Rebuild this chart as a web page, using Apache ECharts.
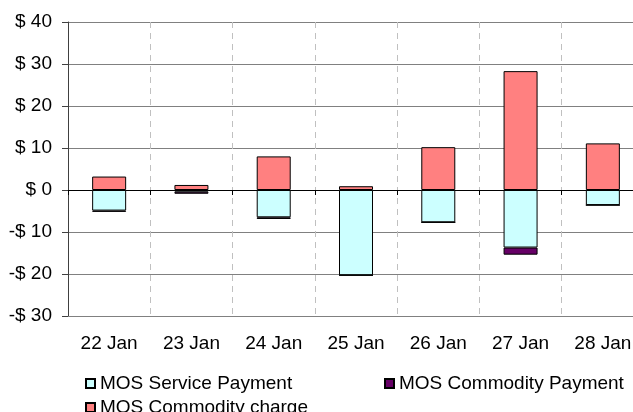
<!DOCTYPE html>
<html>
<head>
<meta charset="utf-8">
<script src="https://cdn.jsdelivr.net/npm/echarts@6/dist/echarts.min.js"></script>
<style>
html,body{margin:0;padding:0;background:#fff;}
#c{width:633px;height:412px;}
</style>
</head>
<body>
<div id="c"></div>
<script>
var categories = ['22 Jan','23 Jan','24 Jan','25 Jan','26 Jan','27 Jan','28 Jan'];
var servicePayment = [-4.9, -0.4, -6.5, -20.3, -7.7, -13.7, -3.6];
var commodityPayment = [-0.3, -0.5, -0.4, 0, 0, -1.7, 0];
var commodityCharge = [3.2, 1.2, 8.0, 0.9, 10.2, 28.3, 11.1];
var yTicks = {min: -30, max: 40, interval: 10};

var FONT = '"Liberation Sans", Arial, sans-serif';
var chart = echarts.init(document.getElementById('c'), null, {renderer: 'canvas'});

function barSeries(name, data, color) {
  return {
    name: name, type: 'bar', stack: 'total', data: data,
    xAxisIndex: 0, yAxisIndex: 0,
    barWidth: 34,
    itemStyle: {color: color, borderColor: '#000', borderWidth: 1},
    emphasis: {disabled: true}
  };
}

var legendBase = {
  orient: 'horizontal', itemWidth: 9, itemHeight: 9, icon: 'rect',
  textStyle: {fontFamily: FONT, fontSize: 19, color: '#000'},
  selectedMode: false
};

chart.setOption({
  animation: false,
  backgroundColor: '#fff',
  grid: {left: 68, top: 22, width: 576, bottom: 96, containLabel: false, outerBoundsMode: 'none'},
  legend: [
    Object.assign({}, legendBase, {data: ['MOS Service Payment'], left: 80, top: 369}),
    Object.assign({}, legendBase, {data: ['MOS Commodity Payment'], left: 379, top: 369}),
    Object.assign({}, legendBase, {data: ['MOS Commodity charge'], left: 80, top: 393})
  ],
  xAxis: [
    {
      type: 'category', data: categories, position: 'bottom',
      axisLine: {show: true, onZero: false, lineStyle: {color: '#808080', width: 1}},
      axisTick: {show: false},
      axisLabel: {fontFamily: FONT, fontSize: 19, color: '#000', margin: 18},
      splitLine: {show: true, lineStyle: {color: '#c0c0c0', width: 1, type: [6, 5]}}
    },
    {
      type: 'category', data: categories, position: 'top',
      axisLine: {show: true, onZero: true, lineStyle: {color: '#000', width: 1}},
      axisTick: {show: true, inside: true, length: 5, lineStyle: {color: '#000'}},
      axisLabel: {show: false},
      splitLine: {show: false}
    }
  ],
  yAxis: {
    type: 'value', min: yTicks.min, max: yTicks.max, interval: yTicks.interval,
    axisLine: {show: true, lineStyle: {color: '#404040', width: 1}},
    axisTick: {show: true, length: 6, lineStyle: {color: '#404040'}},
    axisLabel: {
      fontFamily: FONT, fontSize: 19, color: '#000', margin: 16,
      formatter: function (v) { return v < 0 ? '-$ ' + Math.abs(v) : '$ ' + v; }
    },
    splitLine: {show: true, lineStyle: {color: '#808080', width: 1}}
  },
  series: [
    barSeries('MOS Service Payment', servicePayment, '#CCFFFF'),
    barSeries('MOS Commodity Payment', commodityPayment, '#660066'),
    barSeries('MOS Commodity charge', commodityCharge, '#FF8080')
  ]
});
</script>
</body>
</html>
